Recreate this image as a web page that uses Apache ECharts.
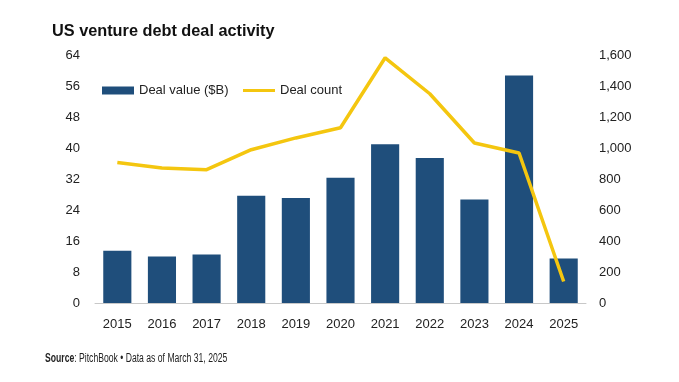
<!DOCTYPE html>
<html>
<head>
<meta charset="utf-8">
<script src="https://cdn.jsdelivr.net/npm/echarts@6/dist/echarts.min.js"></script>
<style>
html,body{margin:0;padding:0;background:#fff;}
#c{width:679px;height:382px;}
</style>
</head>
<body>
<div id="c"></div>
<script>
const categories = ['2015','2016','2017','2018','2019','2020','2021','2022','2023','2024','2025'];
const dealValue = [13.5, 12.0, 12.5, 27.7, 27.1, 32.3, 41.0, 37.4, 26.7, 58.7, 11.5];
const dealCount = [907, 871, 860, 989, 1065, 1131, 1582, 1350, 1032, 968, 139];
const leftTicks = [0, 8, 16, 24, 32, 40, 48, 56, 64];
const rightTicks = [0, 200, 400, 600, 800, 1000, 1200, 1400, 1600];

const chart = echarts.init(document.getElementById('c'));
const font = '"Liberation Sans", Arial, sans-serif';
const barColor = '#1f4e7b';
const lineColor = '#f4c60f';
chart.setOption({
  animation: false,
  backgroundColor: '#fff',
  textStyle: { fontFamily: font },
  title: [{
    text: 'US venture debt deal activity',
    left: 47, top: 19,
    textStyle: { fontFamily: font, fontSize: 16.3, fontWeight: 'bold', color: '#111' }
  }],
  graphic: [{
    type: 'text',
    left: 45, top: 352,
    scaleX: 0.69,
    originX: 0, originY: 0,
    style: {
      text: '{b|Source}: PitchBook • Data as of March 31, 2025',
      fontFamily: font, fontSize: 12.5, fill: '#222',
      rich: { b: { fontFamily: font, fontSize: 12.5, fontWeight: 'bold', fill: '#222' } }
    }
  }],
  legend: [{
    left: 97, top: 79,
    itemWidth: 32, itemHeight: 8,
    icon: 'rect',
    textStyle: { fontFamily: font, fontSize: 13, color: '#222' },
    data: ['Deal value ($B)']
  }, {
    left: 238, top: 79,
    itemWidth: 32, itemHeight: 3,
    icon: 'rect',
    textStyle: { fontFamily: font, fontSize: 13, color: '#222' },
    data: ['Deal count']
  }],
  grid: { left: 95, right: 93, top: 55, bottom: 79, containLabel: false },
  xAxis: {
    type: 'category',
    data: categories,
    axisLine: { lineStyle: { color: '#c8c8c8', width: 1 } },
    axisTick: { show: false },
    axisLabel: { fontFamily: font, fontSize: 13, color: '#222', margin: 15 }
  },
  yAxis: [{
    type: 'value', min: leftTicks[0], max: leftTicks[leftTicks.length - 1], interval: 8,
    splitLine: { show: false },
    axisLine: { show: false }, axisTick: { show: false },
    axisLabel: { fontFamily: font, fontSize: 13, color: '#222', margin: 15 }
  }, {
    type: 'value', min: rightTicks[0], max: rightTicks[rightTicks.length - 1], interval: 200,
    splitLine: { show: false },
    axisLine: { show: false }, axisTick: { show: false },
    axisLabel: {
      fontFamily: font, fontSize: 13, color: '#222', margin: 13,
      formatter: v => v.toLocaleString('en-US')
    }
  }],
  series: [{
    name: 'Deal value ($B)',
    type: 'bar',
    data: dealValue,
    yAxisIndex: 0,
    barCategoryGap: '37%',
    itemStyle: { color: barColor }
  }, {
    name: 'Deal count',
    type: 'line',
    data: dealCount,
    yAxisIndex: 1,
    symbol: 'none',
    lineStyle: { color: lineColor, width: 3.5 },
    itemStyle: { color: lineColor }
  }]
});
</script>
</body>
</html>
